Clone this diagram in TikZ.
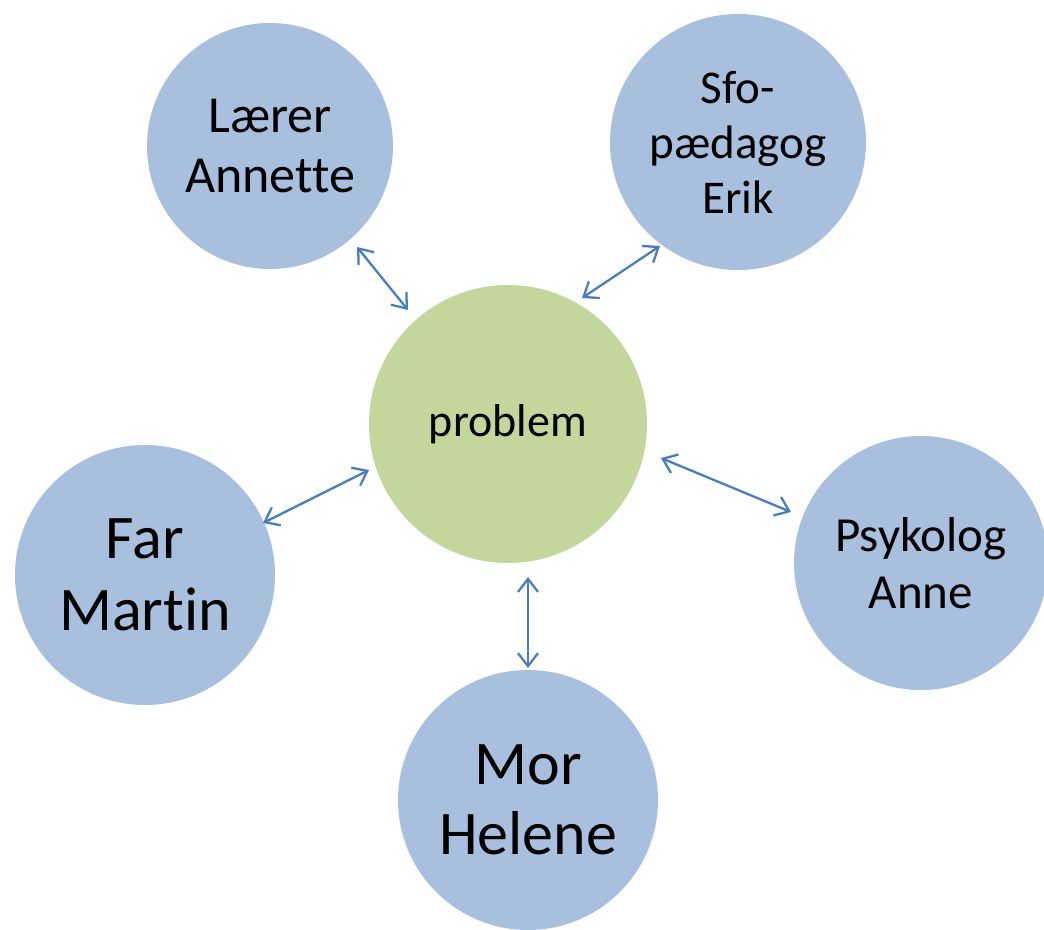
\documentclass[tikz,border=0pt]{standalone}
\usepackage{fontspec}
\setmainfont{Carlito}[Ligatures=NoCommon]
\usetikzlibrary{arrows.meta}
\definecolor{bluefill}{HTML}{A8BFDE}
\definecolor{greenfill}{HTML}{C3D69B}
\definecolor{arrowblue}{HTML}{4A7EBB}
\begin{document}
\begin{tikzpicture}[x=1pt,y=-1pt,
  person/.style={circle,fill=bluefill,inner sep=0pt,align=center,text=black},
  center/.style={circle,fill=greenfill,inner sep=0pt,align=center,text=black},
  link/.style={draw=arrowblue,line width=2.3pt,{Straight Barb[length=13pt,width=20pt,line width=2.3pt]}-{Straight Barb[length=13pt,width=20pt,line width=2.3pt]}}]
\useasboundingbox (0,0) rectangle (1044,929);
\node[person,minimum size=246pt,font=\fontsize{52}{60}\selectfont] (L) at (270,146) {Lærer\\Annette};
\node[person,minimum size=256pt,font=\fontsize{47}{55}\selectfont] (S) at (738,142) {Sfo-\\pædagog\\Erik};
\node[center,minimum size=278pt,font=\fontsize{46}{54}\selectfont] (P) at (508,424) {problem};
\node[person,minimum size=260pt,font=\fontsize{62}{72}\selectfont] (F) at (145,575) {Far\\Martin};
\node[person,minimum size=254pt,font=\fontsize{49}{57}\selectfont] (Y) at (921,563) {Psykolog\\Anne};
\node[person,minimum size=260pt,font=\fontsize{62}{70}\selectfont] (M) at (528,800) {Mor\\Helene};
\coordinate (l1) at (357,247);
\coordinate (l2) at (408,310);
\coordinate (s1) at (660,246);
\coordinate (s2) at (582,298);
\coordinate (f1) at (263,523);
\coordinate (f2) at (369,470);
\coordinate (y1) at (661,458);
\coordinate (y2) at (791,512);
\coordinate (m1) at (528,577);
\coordinate (m2) at (528,668);
\draw[link] (l1) -- (l2);
\draw[link] (s1) -- (s2);
\draw[link] (f1) -- (f2);
\draw[link] (y1) -- (y2);
\draw[link] (m1) -- (m2);
\end{tikzpicture}
\end{document}
